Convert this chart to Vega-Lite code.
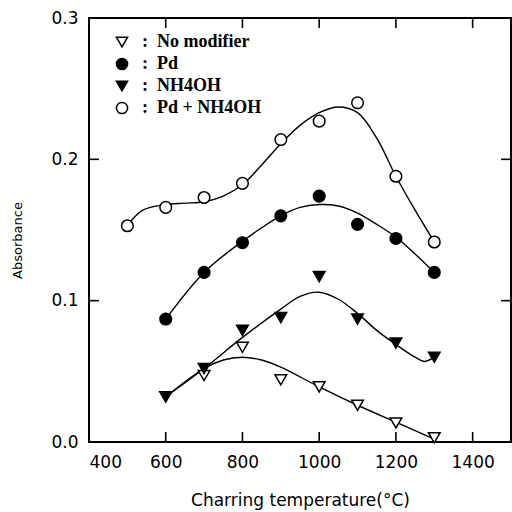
{
  "$schema": "https://vega.github.io/schema/vega-lite/v6.json",
  "width": 422,
  "height": 424,
  "autosize": {"type": "none"},
  "padding": {"left": 89, "top": 18, "right": 1, "bottom": 70},
  "background": "white",
  "config": {
    "view": {"stroke": "black", "strokeWidth": 2},
    "axis": {
      "domain": false,
      "ticks": false,
      "grid": false,
      "labelFont": "DejaVu Sans",
      "labelFontSize": 17,
      "labelColor": "black",
      "titleFont": "DejaVu Sans",
      "titleColor": "black",
      "titleFontWeight": "normal"
    },
    "legend": {"symbolStrokeColor": "black", "symbolStrokeWidth": 1.5}
  },
  "datasets": {
    "xticks": [{"temp": 600}, {"temp": 800}, {"temp": 1000}, {"temp": 1200}, {"temp": 1400}],
    "yticks": [{"abs": 0.1}, {"abs": 0.2}],
    "pts": [
      {"series": "No modifier", "temp": 600, "abs": 0.032},
      {"series": "No modifier", "temp": 700, "abs": 0.047},
      {"series": "No modifier", "temp": 800, "abs": 0.067},
      {"series": "No modifier", "temp": 900, "abs": 0.044},
      {"series": "No modifier", "temp": 1000, "abs": 0.039},
      {"series": "No modifier", "temp": 1100, "abs": 0.026},
      {"series": "No modifier", "temp": 1200, "abs": 0.0135},
      {"series": "No modifier", "temp": 1300, "abs": 0.003},
      {"series": "Pd", "temp": 600, "abs": 0.087},
      {"series": "Pd", "temp": 700, "abs": 0.120},
      {"series": "Pd", "temp": 800, "abs": 0.141},
      {"series": "Pd", "temp": 900, "abs": 0.160},
      {"series": "Pd", "temp": 1000, "abs": 0.174},
      {"series": "Pd", "temp": 1100, "abs": 0.154},
      {"series": "Pd", "temp": 1200, "abs": 0.144},
      {"series": "Pd", "temp": 1300, "abs": 0.120},
      {"series": "NH4OH", "temp": 600, "abs": 0.032},
      {"series": "NH4OH", "temp": 700, "abs": 0.052},
      {"series": "NH4OH", "temp": 800, "abs": 0.079},
      {"series": "NH4OH", "temp": 900, "abs": 0.088},
      {"series": "NH4OH", "temp": 1000, "abs": 0.117},
      {"series": "NH4OH", "temp": 1100, "abs": 0.087},
      {"series": "NH4OH", "temp": 1200, "abs": 0.070},
      {"series": "NH4OH", "temp": 1300, "abs": 0.060},
      {"series": "Pd + NH4OH", "temp": 500, "abs": 0.153},
      {"series": "Pd + NH4OH", "temp": 600, "abs": 0.166},
      {"series": "Pd + NH4OH", "temp": 700, "abs": 0.173},
      {"series": "Pd + NH4OH", "temp": 800, "abs": 0.183},
      {"series": "Pd + NH4OH", "temp": 900, "abs": 0.214},
      {"series": "Pd + NH4OH", "temp": 1000, "abs": 0.227},
      {"series": "Pd + NH4OH", "temp": 1100, "abs": 0.240},
      {"series": "Pd + NH4OH", "temp": 1200, "abs": 0.188},
      {"series": "Pd + NH4OH", "temp": 1300, "abs": 0.1415}
    ],
    "fit": [
      {"series": "No modifier", "temp": 600, "abs": 0.032},
      {"series": "No modifier", "temp": 700, "abs": 0.052},
      {"series": "No modifier", "temp": 750, "abs": 0.058},
      {"series": "No modifier", "temp": 800, "abs": 0.060},
      {"series": "No modifier", "temp": 850, "abs": 0.058},
      {"series": "No modifier", "temp": 900, "abs": 0.053},
      {"series": "No modifier", "temp": 1000, "abs": 0.039},
      {"series": "No modifier", "temp": 1100, "abs": 0.026},
      {"series": "No modifier", "temp": 1200, "abs": 0.014},
      {"series": "No modifier", "temp": 1250, "abs": 0.008},
      {"series": "No modifier", "temp": 1300, "abs": 0.002},
      {"series": "Pd", "temp": 600, "abs": 0.087},
      {"series": "Pd", "temp": 700, "abs": 0.120},
      {"series": "Pd", "temp": 800, "abs": 0.142},
      {"series": "Pd", "temp": 900, "abs": 0.160},
      {"series": "Pd", "temp": 950, "abs": 0.166},
      {"series": "Pd", "temp": 1000, "abs": 0.168},
      {"series": "Pd", "temp": 1050, "abs": 0.167},
      {"series": "Pd", "temp": 1100, "abs": 0.162},
      {"series": "Pd", "temp": 1150, "abs": 0.154},
      {"series": "Pd", "temp": 1200, "abs": 0.145},
      {"series": "Pd", "temp": 1250, "abs": 0.133},
      {"series": "Pd", "temp": 1300, "abs": 0.120},
      {"series": "NH4OH", "temp": 600, "abs": 0.032},
      {"series": "NH4OH", "temp": 700, "abs": 0.052},
      {"series": "NH4OH", "temp": 800, "abs": 0.074},
      {"series": "NH4OH", "temp": 900, "abs": 0.094},
      {"series": "NH4OH", "temp": 950, "abs": 0.103},
      {"series": "NH4OH", "temp": 1000, "abs": 0.106},
      {"series": "NH4OH", "temp": 1050, "abs": 0.101},
      {"series": "NH4OH", "temp": 1100, "abs": 0.091},
      {"series": "NH4OH", "temp": 1150, "abs": 0.079},
      {"series": "NH4OH", "temp": 1200, "abs": 0.069},
      {"series": "NH4OH", "temp": 1250, "abs": 0.060},
      {"series": "NH4OH", "temp": 1275, "abs": 0.057},
      {"series": "NH4OH", "temp": 1300, "abs": 0.060},
      {"series": "Pd + NH4OH", "temp": 500, "abs": 0.153},
      {"series": "Pd + NH4OH", "temp": 540, "abs": 0.164},
      {"series": "Pd + NH4OH", "temp": 600, "abs": 0.168},
      {"series": "Pd + NH4OH", "temp": 650, "abs": 0.169},
      {"series": "Pd + NH4OH", "temp": 700, "abs": 0.170},
      {"series": "Pd + NH4OH", "temp": 750, "abs": 0.174},
      {"series": "Pd + NH4OH", "temp": 800, "abs": 0.182},
      {"series": "Pd + NH4OH", "temp": 850, "abs": 0.196},
      {"series": "Pd + NH4OH", "temp": 900, "abs": 0.211},
      {"series": "Pd + NH4OH", "temp": 950, "abs": 0.224},
      {"series": "Pd + NH4OH", "temp": 1000, "abs": 0.233},
      {"series": "Pd + NH4OH", "temp": 1050, "abs": 0.237},
      {"series": "Pd + NH4OH", "temp": 1100, "abs": 0.233},
      {"series": "Pd + NH4OH", "temp": 1150, "abs": 0.215},
      {"series": "Pd + NH4OH", "temp": 1200, "abs": 0.188},
      {"series": "Pd + NH4OH", "temp": 1250, "abs": 0.164},
      {"series": "Pd + NH4OH", "temp": 1300, "abs": 0.1415}
    ]
  },
  "layer": [
    {
      "data": {"name": "fit"},
      "mark": {"type": "line", "color": "black", "strokeWidth": 1.4, "interpolate": "catmull-rom"},
      "encoding": {
        "x": {
          "field": "temp", "type": "quantitative",
          "scale": {"domain": [400, 1500], "nice": false, "zero": false},
          "axis": {
            "orient": "bottom",
            "values": [400, 600, 800, 1000, 1200, 1400],
            "format": "d",
            "labelPadding": 12,
            "title": "Charring temperature(°C)",
            "titleFontSize": 17,
            "titleY": 58,
            "titleBaseline": "middle"
          }
        },
        "y": {
          "field": "abs", "type": "quantitative",
          "scale": {"domain": [0, 0.3], "nice": false, "zero": false},
          "axis": {
            "orient": "left",
            "values": [0, 0.1, 0.2, 0.3],
            "format": ".1f",
            "labelPadding": 11,
            "title": "Absorbance",
            "titleFontSize": 13,
            "titleX": -65,
            "titleY": 222
          }
        },
        "detail": {"field": "series"}
      }
    },
    {
      "data": {"name": "xticks"},
      "mark": {"type": "rule", "color": "black", "strokeWidth": 1.6},
      "encoding": {
        "x": {"field": "temp", "type": "quantitative", "axis": null},
        "y": {"datum": 0, "type": "quantitative", "axis": null},
        "y2": {"datum": 0.0071}
      }
    },
    {
      "data": {"name": "xticks"},
      "mark": {"type": "rule", "color": "black", "strokeWidth": 1.6},
      "encoding": {
        "x": {"field": "temp", "type": "quantitative", "axis": null},
        "y": {"datum": 0.3, "type": "quantitative", "axis": null},
        "y2": {"datum": 0.2929}
      }
    },
    {
      "data": {"name": "yticks"},
      "mark": {"type": "rule", "color": "black", "strokeWidth": 1.6},
      "encoding": {
        "y": {"field": "abs", "type": "quantitative", "axis": null},
        "x": {"datum": 400, "type": "quantitative", "axis": null},
        "x2": {"datum": 426}
      }
    },
    {
      "data": {"name": "yticks"},
      "mark": {"type": "rule", "color": "black", "strokeWidth": 1.6},
      "encoding": {
        "y": {"field": "abs", "type": "quantitative", "axis": null},
        "x": {"datum": 1500, "type": "quantitative", "axis": null},
        "x2": {"datum": 1474}
      }
    },
    {
      "data": {"name": "pts"},
      "mark": {"type": "point", "strokeWidth": 1.5, "opacity": 1, "size": 135},
      "encoding": {
        "x": {"field": "temp", "type": "quantitative", "axis": null},
        "y": {"field": "abs", "type": "quantitative", "axis": null},
        "shape": {
          "field": "series", "type": "nominal",
          "scale": {"domain": ["No modifier", "Pd", "NH4OH", "Pd + NH4OH"], "range": ["triangle-down", "circle", "triangle-down", "circle"]},
          "legend": {
            "orient": "none", "legendX": 24, "legendY": 15, "title": null,
            "labelExpr": "':\u00a0 ' + datum.label",
            "labelFont": "Liberation Serif", "labelFontWeight": "bold", "labelFontSize": 18, "labelColor": "black",
            "symbolSize": 125, "rowPadding": 4, "labelOffset": 11
          }
        },
        "fill": {
          "field": "series", "type": "nominal",
          "scale": {"domain": ["No modifier", "Pd", "NH4OH", "Pd + NH4OH"], "range": ["white", "black", "black", "white"]},
          "legend": {
            "orient": "none", "legendX": 24, "legendY": 15, "title": null,
            "labelExpr": "':\u00a0 ' + datum.label",
            "labelFont": "Liberation Serif", "labelFontWeight": "bold", "labelFontSize": 18, "labelColor": "black",
            "symbolSize": 125, "rowPadding": 4, "labelOffset": 11
          }
        },
        "stroke": {
          "field": "series", "type": "nominal",
          "scale": {"domain": ["No modifier", "Pd", "NH4OH", "Pd + NH4OH"], "range": ["black", "black", "black", "black"]},
          "legend": {
            "orient": "none", "legendX": 24, "legendY": 15, "title": null,
            "labelExpr": "':\u00a0 ' + datum.label",
            "labelFont": "Liberation Serif", "labelFontWeight": "bold", "labelFontSize": 18, "labelColor": "black",
            "symbolSize": 125, "rowPadding": 4, "labelOffset": 11
          }
        }
      }
    }
  ],
  "resolve": {"axis": {"x": "independent", "y": "independent"}}
}
